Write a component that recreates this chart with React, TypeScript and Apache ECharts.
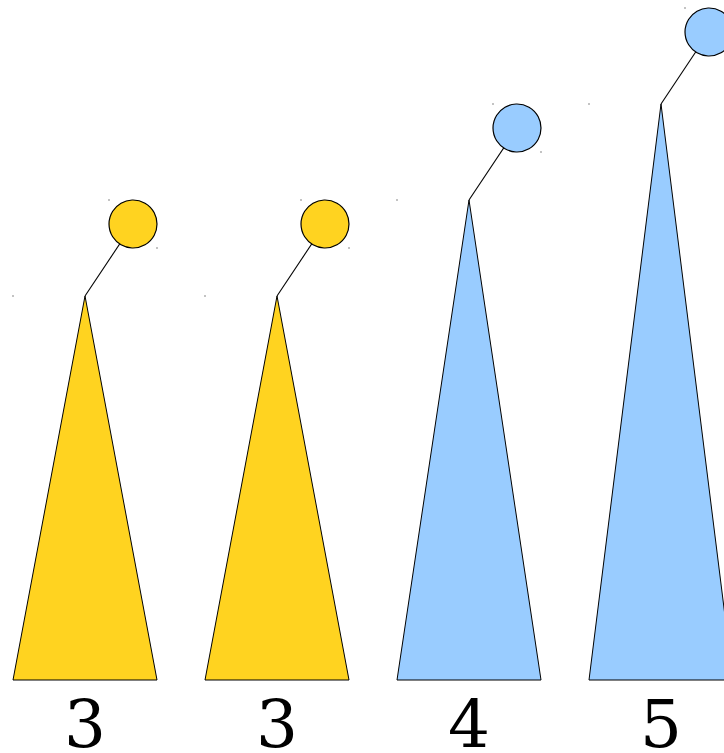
import React, { useEffect, useRef } from "react";
import * as echarts from "echarts";

const categories = ["3", "3", "4", "5"];
const values = [3, 3, 4, 5];
const groups = ["a", "a", "b", "b"];

const groupColor: Record<string, string> = { a: "#FFD320", b: "#99CCFF" };

export default function App() {
  const ref = useRef<HTMLDivElement>(null);
  useEffect(() => {
    const chart = echarts.init(ref.current!, null, { renderer: "svg" });
    const data = values.map((v, i) => [i, v]);
    chart.setOption({
      animation: false,
      backgroundColor: "#ffffff",
      grid: { left: -11, width: 768, top: 8, height: 672, outerBoundsMode: "none", containLabel: false },
      xAxis: {
        type: "category",
        data: categories,
        boundaryGap: true,
        axisLine: { show: false },
        axisTick: { show: false },
        splitLine: { show: false },
        axisLabel: {
          show: true,
          color: "#000",
          fontFamily: "DejaVu Serif",
          fontSize: 66,
          margin: 11,
          interval: 0,
          hideOverlap: false,
        },
      },
      yAxis: {
        type: "value",
        min: 0,
        max: 7,
        show: false,
        splitLine: { show: false },
      },
      series: [
        {
          type: "custom",
          data,
          clip: false,
          renderItem: (params: any, api: any) => {
            const i = api.value(0);
            const v = api.value(1);
            const band = api.size([1, 0])[0];
            const half = band * 0.375;
            const base = api.coord([i, 0]);
            const apex = api.coord([i, v + 1]);
            const unit = api.size([0, 1])[1];
            const cx = apex[0] + band * 0.25;
            const cy = apex[1] - unit * 0.75;
            const r = unit * 0.25;
            const fill = groupColor[groups[params.dataIndex]];
            const dot = (x: number, y: number) => ({
              type: "rect",
              shape: { x: x - 0.5, y: y - 0.5, width: 1, height: 1 },
              style: { fill: "#111" },
            });
            return {
              type: "group",
              children: [
                {
                  type: "polygon",
                  shape: {
                    points: [
                      [base[0] - half, base[1]],
                      [apex[0], apex[1]],
                      [base[0] + half, base[1]],
                    ],
                  },
                  style: { fill, stroke: "#000", lineWidth: 1 },
                },
                {
                  type: "line",
                  shape: { x1: apex[0], y1: apex[1], x2: cx, y2: cy },
                  style: { stroke: "#000", lineWidth: 1.1 },
                },
                {
                  type: "circle",
                  shape: { cx, cy, r },
                  style: { fill, stroke: "#000", lineWidth: 1.2 },
                },
                dot(base[0] - half, apex[1]),
                dot(cx - r, cy - r),
                dot(cx + r, cy + r),
              ],
            };
          },
        },
      ],
    });
    return () => chart.dispose();
  }, []);
  return <div ref={ref} style={{ width: 724, height: 753, position: "absolute", left: 0, top: 0 }} />;
}
